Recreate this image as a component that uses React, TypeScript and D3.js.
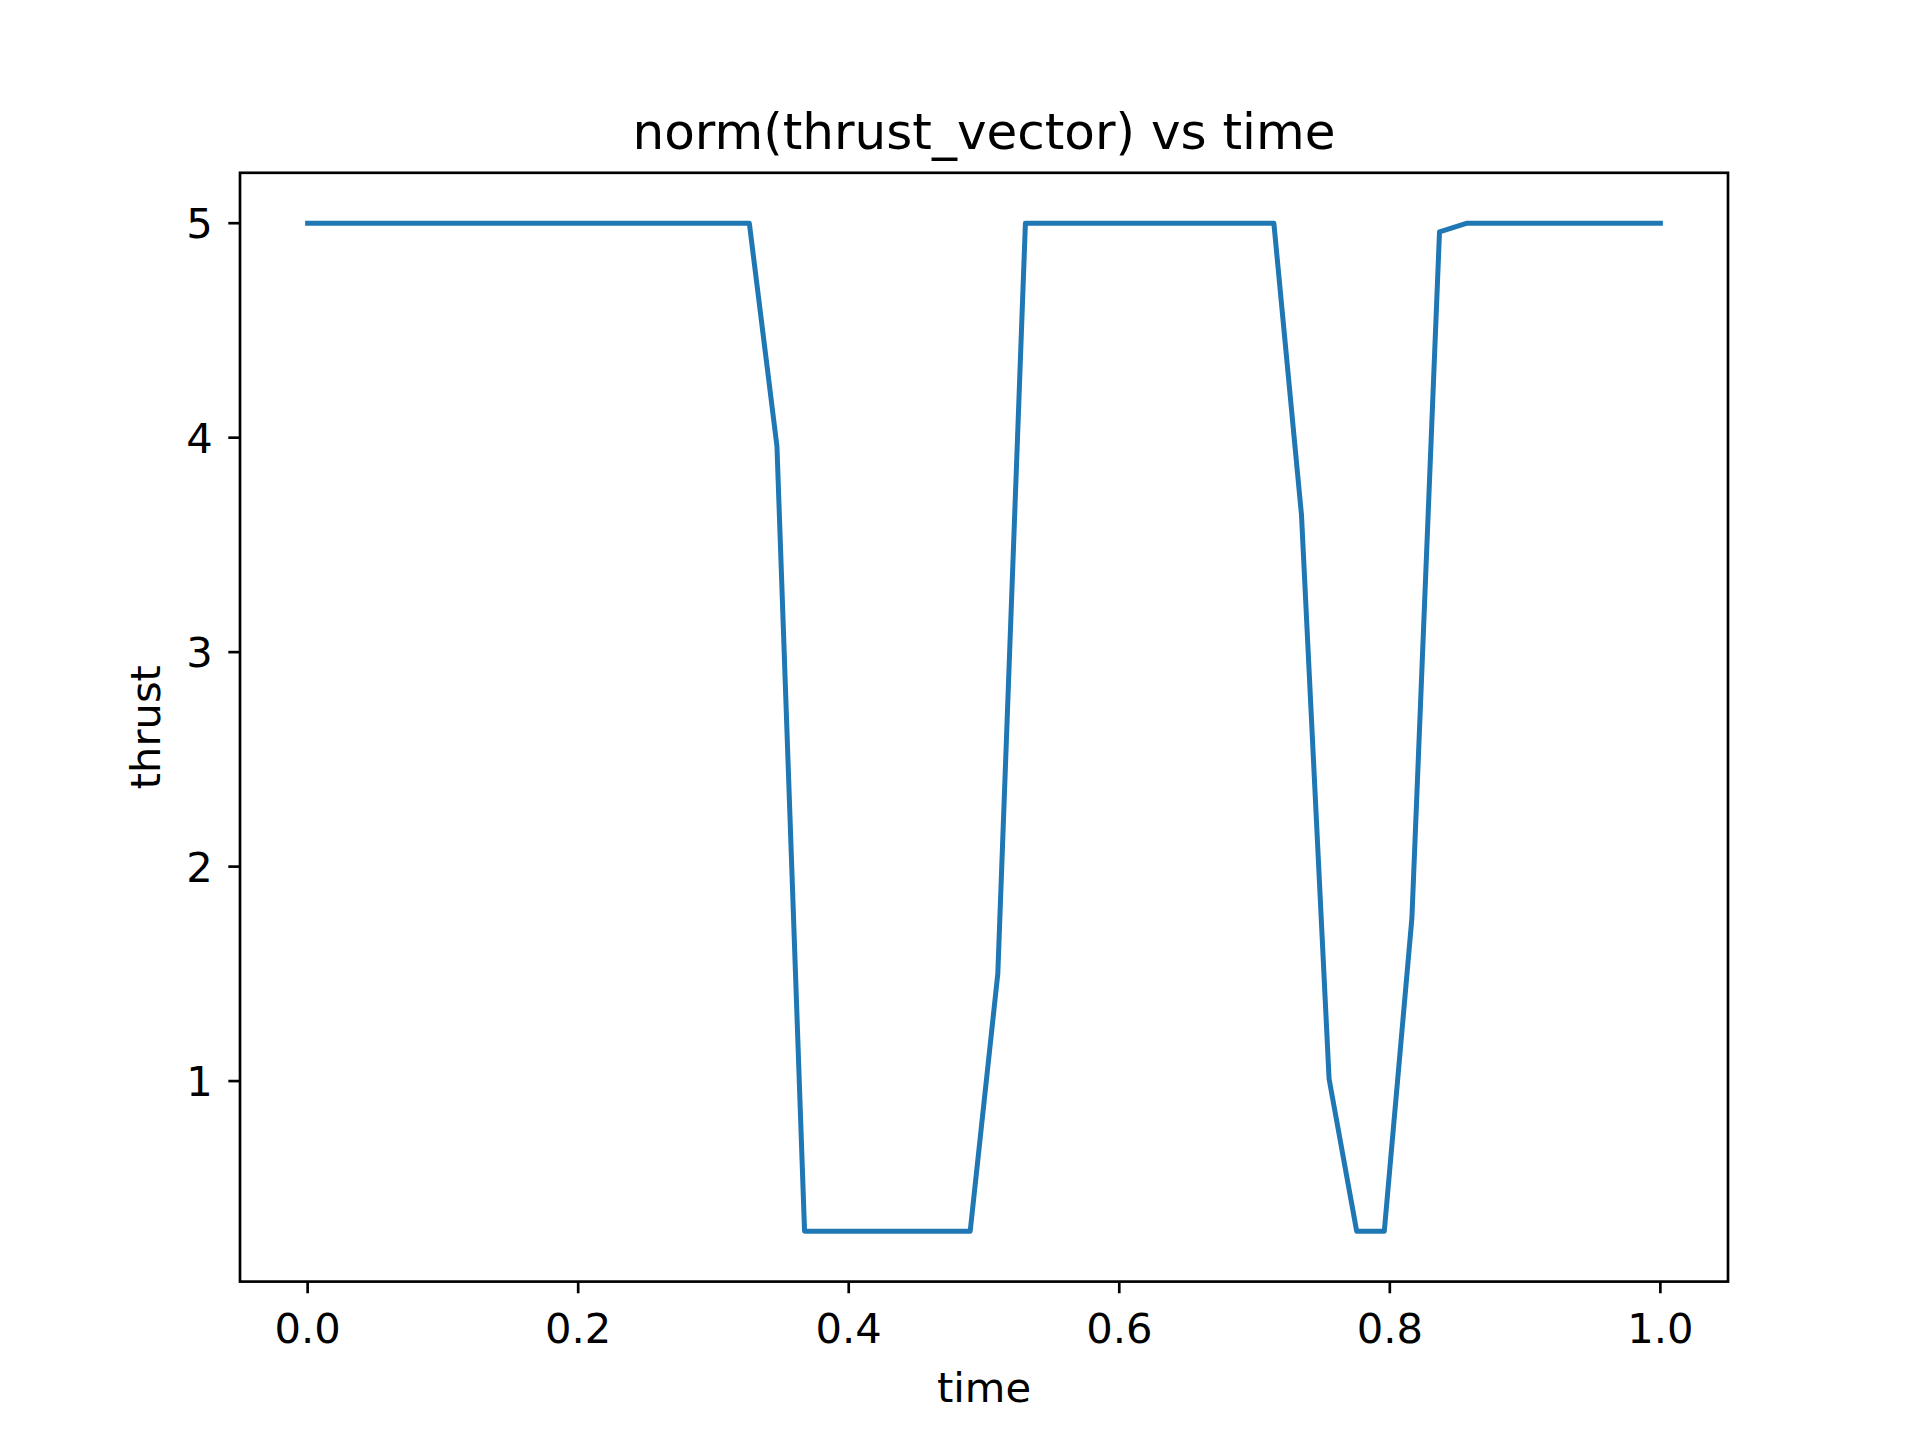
import React from "react";
import * as d3 from "d3";

const times: number[] = Array.from({ length: 50 }, (_, i) => i / 49);
const thrust: number[] = [
  5, 5, 5, 5, 5, 5, 5, 5, 5, 5,
  5, 5, 5, 5, 5, 5, 5, 3.96, 0.3, 0.3,
  0.3, 0.3, 0.3, 0.3, 0.3, 1.5, 5, 5, 5, 5,
  5, 5, 5, 5, 5, 5, 3.64, 1.01, 0.3, 0.3,
  1.76, 4.96, 5, 5, 5, 5, 5, 5, 5, 5,
];
const xTicks = [0, 0.2, 0.4, 0.6, 0.8, 1.0];
const yTicks = [1, 2, 3, 4, 5];

const W = 1920, H = 1440;
const L = 240, R = 1728, T = 172.8, B = 1281.6;
const px = 240 / 72;
const font = "DejaVu Sans, sans-serif";

export default function App() {
  const x = d3.scaleLinear().domain([-0.05, 1.05]).range([L, R]);
  const y = d3.scaleLinear().domain([0.065, 5.235]).range([B, T]);
  const line = d3.line<number>().x((_, i) => x(times[i])).y((d) => y(d));
  const tl = 3.5 * px;
  const fs = 12.5 * px;
  return (
    <svg width={W} height={H} style={{ position: "absolute", left: 0, top: 0, background: "#fff" }}>
      <rect x={0} y={0} width={W} height={H} fill="#fff" />
      <path d={line(thrust) || ""} fill="none" stroke="#1f77b4" strokeWidth={1.5 * px} strokeLinejoin="round" strokeLinecap="square" />
      <rect x={L} y={T} width={R - L} height={B - T} fill="none" stroke="#000" strokeWidth={0.8 * px} />
      {xTicks.map((t) => (
        <g key={"x" + t}>
          <line x1={x(t)} x2={x(t)} y1={B} y2={B + tl} stroke="#000" strokeWidth={0.8 * px} />
          <text x={x(t)} y={1343} fontSize={fs} fontFamily={font} textAnchor="middle">{t.toFixed(1)}</text>
        </g>
      ))}
      {yTicks.map((t) => (
        <g key={"y" + t}>
          <line x1={L - tl} x2={L} y1={y(t)} y2={y(t)} stroke="#000" strokeWidth={0.8 * px} />
          <text x={L - tl - 3.5 * px - 4} y={y(t)} dy="0.36em" fontSize={fs} fontFamily={font} textAnchor="end">{t}</text>
        </g>
      ))}
      <text x={(L + R) / 2} y={1402} fontSize={fs} fontFamily={font} textAnchor="middle">time</text>
      <text transform={`translate(160,${(T + B) / 2}) rotate(-90)`} fontSize={fs} fontFamily={font} textAnchor="middle">thrust</text>
      <text x={(L + R) / 2} y={149} fontSize={15 * px} fontFamily={font} textAnchor="middle">norm(thrust_vector) vs time</text>
    </svg>
  );
}
